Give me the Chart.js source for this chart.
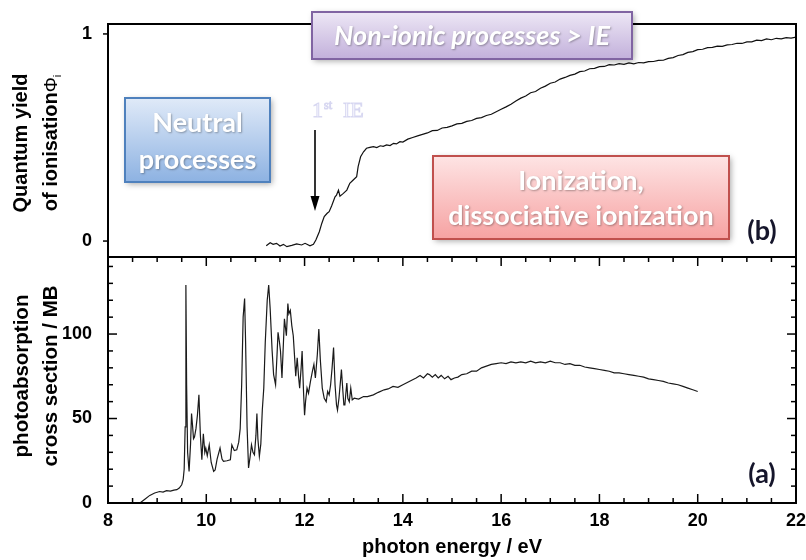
<!DOCTYPE html>
<html>
<head>
<meta charset="utf-8">
<script src="https://cdn.jsdelivr.net/npm/chart.js@4.4.0/dist/chart.umd.min.js"></script>
<style>
body{margin:0;background:#fff;width:806px;height:560px;overflow:hidden;position:relative}
canvas{position:absolute;left:0}
#yieldChart{top:0}
#absChart{top:255px}
</style>
</head>
<body>
<canvas id="absChart" width="806" height="305"></canvas>
<canvas id="yieldChart" width="806" height="260"></canvas>
<script>
// tick labels
const energyTicks = [8, 10, 12, 14, 16, 18, 20, 22]
const yieldTicks = [0, 1]
const absTicks = [0, 50, 100]

// (b) quantum yield of ionisation vs photon energy (eV)
const yieldE = [11.22,11.30,11.36,11.43,11.50,11.57,11.64,11.74,11.84,11.94,12.01,12.11,12.18,12.23,12.30,12.35,12.40,12.46,12.50,12.55,
  12.62,12.65,12.69,12.72,12.79,12.86,12.92,12.99,13.06,13.09,13.14,13.20,13.26,13.33,13.40,13.47,13.54,13.60,13.67,13.74,
  13.81,13.87,13.94,14.0,14.1,14.2,14.3,14.4,14.5,14.6,14.7,14.8,14.9,15.0,15.1,15.2,15.3,15.4,15.5,15.6,
  15.7,15.8,15.9,16.0,16.1,16.2,16.3,16.4,16.5,16.6,16.7,16.8,16.9,17.0,17.1,17.2,17.3,17.4,17.5,17.6,
  17.7,17.8,17.9,18.0,18.1,18.2,18.3,18.4,18.5,18.6,18.7,18.8,18.9,19.0,19.1,19.2,19.3,19.4,19.5,19.6,
  19.7,19.8,19.9,20.0,20.1,20.2,20.3,20.4,20.5,20.6,20.7,20.8,20.9,21.0,21.1,21.2,21.3,21.4,21.5,21.6,
  21.7,21.8,21.9,22.0]
const yieldVal = [-0.023,-0.008,-0.016,-0.011,-0.024,-0.016,-0.027,-0.021,-0.014,-0.019,-0.011,-0.023,-0.016,0.005,0.045,0.085,0.118,0.134,0.142,0.169,
  0.214,0.222,0.246,0.217,0.230,0.246,0.279,0.295,0.311,0.359,0.407,0.431,0.448,0.452,0.456,0.451,0.460,0.457,0.464,0.461,
  0.472,0.469,0.480,0.478,0.492,0.500,0.508,0.515,0.522,0.533,0.534,0.546,0.549,0.556,0.566,0.568,0.578,0.582,0.592,0.596,
  0.606,0.612,0.624,0.636,0.648,0.661,0.676,0.690,0.700,0.716,0.722,0.738,0.748,0.762,0.768,0.782,0.790,0.800,0.806,0.818,
  0.821,0.832,0.834,0.842,0.843,0.852,0.850,0.857,0.853,0.860,0.856,0.862,0.860,0.866,0.867,0.872,0.873,0.882,0.886,0.896,
  0.900,0.911,0.915,0.924,0.926,0.934,0.935,0.941,0.940,0.947,0.949,0.955,0.954,0.962,0.962,0.970,0.968,0.976,0.972,0.979,
  0.976,0.982,0.980,0.985]

// (a) photoabsorption cross section (MB) vs photon energy (eV)
const absE = [8.65,8.75,8.85,8.95,9.05,9.12,9.19,9.27,9.34,9.40,9.45,9.50,9.53,9.55,9.57,9.585,9.60,9.62,9.65,9.68,
  9.70,9.72,9.74,9.76,9.79,9.82,9.85,9.88,9.91,9.94,9.97,9.99,10.02,10.06,10.10,10.15,10.18,10.22,10.28,10.32,
  10.35,10.42,10.49,10.52,10.57,10.62,10.66,10.69,10.72,10.75,10.78,10.80,10.83,10.86,10.89,10.92,10.95,10.98,11.01,11.03,
  11.05,11.08,11.11,11.14,11.17,11.20,11.24,11.27,11.30,11.34,11.37,11.41,11.44,11.46,11.49,11.51,11.54,11.57,11.59,11.61,
  11.63,11.66,11.68,11.71,11.74,11.77,11.80,11.82,11.85,11.88,11.90,11.93,11.95,11.98,12.00,12.02,12.05,12.08,12.12,12.16,
  12.19,12.22,12.26,12.29,12.32,12.36,12.40,12.44,12.47,12.50,12.53,12.56,12.59,12.62,12.65,12.67,12.70,12.73,12.75,12.78,
  12.80,12.82,12.84,12.86,12.88,12.91,12.94,12.97,13.01,13.1,13.2,13.28,13.4,13.5,13.62,13.7,13.8,13.9,14.0,14.1,
  14.2,14.27,14.35,14.42,14.5,14.54,14.6,14.66,14.72,14.78,14.85,14.92,14.98,15.05,15.12,15.2,15.3,15.4,15.5,15.6,
  15.7,15.8,15.9,16.0,16.1,16.2,16.3,16.4,16.5,16.6,16.7,16.8,16.9,17.0,17.1,17.2,17.3,17.4,17.5,17.6,
  17.7,17.8,17.9,18.0,18.1,18.2,18.3,18.4,18.5,18.6,18.7,18.8,18.9,19.0,19.1,19.2,19.3,19.4,19.5,19.6,
  19.7,19.8,19.9,20.0]
const absVal = [0,2.2,4.5,5.9,6.8,6.5,7.3,7.0,7.6,7.9,8.8,10.8,14,20,45,129,70,30,18.7,35,
  53,46,38,39,44,52,64,40,25.6,41,30,32.5,28,34.4,24,18.7,19.5,26,32.5,26,
  24.6,25,25.6,34.4,31,31.5,36,44,70,110,121,95,45,20.7,27,34.4,30,28.5,40,53,
  38,27.6,35,55,68,95,120,129,115,90,76,70,88,101,95,90,74,95,109,104,
  99,118,112,114,105,99,85,75,86,74,68,80,90,65,52,60,68,65,72,78,
  82,74,88,103,85,68,62,60,66,64,70,80,92,70,58,55,62,72,79,66,
  58,58,65,71,62,60,68,61,62,61.5,63,63,64,65.5,67,67.5,69,68.5,70,71.5,
  73,74,75.5,74,76.5,76,74.5,76,74,75.5,73.5,75,73,74,74.5,76,76.5,78,78,80,
  81,82,82.5,83,82.5,83.5,83,83.5,83,84,83,83.5,83,84,83,83,82,82.5,81.5,81.5,
  80.5,80,79.5,79,78.5,78,77,77,76.5,76,75.5,75,74.5,73.5,73,72.5,72,71,70.5,70,
  69,68,67,66]

const sans = "'Liberation Sans', Arial, sans-serif"
const boxFont = "Lato, 'Open Sans', sans-serif"

function pts(xs, ys) {
  return xs.map((x, i) => ({x: x, y: ys[i]}))
}

function fixY(scale) {
  scale.width = 108
  scale.paddingTop = 0
  scale.paddingBottom = 0
}

function line(ctx, x1, y1, x2, y2) {
  ctx.beginPath()
  ctx.moveTo(x1, y1)
  ctx.lineTo(x2, y2)
  ctx.stroke()
}

function box(ctx, x, y, w, h, c1, c2, edge, lines, lineY, font) {
  ctx.save()
  ctx.shadowColor = 'rgba(0,0,0,0.35)'
  ctx.shadowBlur = 6
  ctx.shadowOffsetX = 2
  ctx.shadowOffsetY = 2
  const g = ctx.createLinearGradient(0, y, 0, y + h)
  g.addColorStop(0, c1)
  g.addColorStop(1, c2)
  ctx.fillStyle = g
  ctx.fillRect(x, y, w, h)
  ctx.shadowColor = 'transparent'
  ctx.strokeStyle = edge
  ctx.lineWidth = 2
  ctx.strokeRect(x, y, w, h)
  ctx.fillStyle = '#fff'
  ctx.font = font
  ctx.textAlign = 'center'
  ctx.textBaseline = 'middle'
  ctx.shadowColor = 'rgba(0,0,0,0.3)'
  ctx.shadowBlur = 2
  ctx.shadowOffsetX = 1
  ctx.shadowOffsetY = 1
  lines.forEach((t, i) => ctx.fillText(t, x + w / 2, lineY[i]))
  ctx.restore()
}

const yieldDeco = {
  id: 'yieldDeco',
  afterDraw(chart) {
    const ctx = chart.ctx, a = chart.chartArea, ys = chart.scales.y
    ctx.save()
    ctx.strokeStyle = '#000'
    ctx.lineWidth = 2
    ctx.strokeRect(a.left, a.top, a.right - a.left, a.bottom - a.top)
    ctx.lineWidth = 1.5
    yieldTicks.forEach(v => {
      const py = ys.getPixelForValue(v)
      line(ctx, a.left - 5, py, a.left, py)
    })

    // y title
    ctx.save()
    ctx.translate(27, 143)
    ctx.rotate(-Math.PI / 2)
    ctx.fillStyle = '#000'
    ctx.font = 'bold 20px ' + sans
    ctx.textAlign = 'center'
    ctx.textBaseline = 'alphabetic'
    ctx.fillText('Quantum yield', 0, 0)
    const t1 = 'of ionisation', f1 = 'bold 20px ' + sans, f2 = '19px ' + sans, f3 = '11px ' + sans
    ctx.font = f1; const w1 = ctx.measureText(t1).width
    ctx.font = f2; const w2 = ctx.measureText('Φ').width
    ctx.font = f3; const w3 = ctx.measureText('i').width
    const sx = -(w1 + w2 + w3) / 2
    ctx.textAlign = 'left'
    ctx.font = f1; ctx.fillText(t1, sx, 30)
    ctx.font = f2; ctx.fillText('Φ', sx + w1, 30)
    ctx.font = f3; ctx.fillText('i', sx + w1 + w2, 34)
    ctx.restore()

    // arrow to 1st IE
    ctx.strokeStyle = '#000'
    ctx.fillStyle = '#000'
    ctx.lineWidth = 1.6
    line(ctx, 315, 130, 315, 198)
    ctx.beginPath()
    ctx.moveTo(310.5, 196)
    ctx.lineTo(319.5, 196)
    ctx.lineTo(315, 211)
    ctx.closePath()
    ctx.fill()

    // faint "1st IE" label
    ctx.textAlign = 'left'
    ctx.textBaseline = 'alphabetic'
    ctx.fillStyle = '#fafaff'
    ctx.strokeStyle = 'rgba(170,170,225,0.45)'
    ctx.lineWidth = 1
    ctx.font = '22px "Liberation Serif", serif'
    ctx.fillText('1', 312, 117); ctx.strokeText('1', 312, 117)
    ctx.font = '12px "Liberation Serif", serif'
    ctx.fillText('st', 324, 109); ctx.strokeText('st', 324, 109)
    ctx.font = '22px "Liberation Serif", serif'
    ctx.fillText('IE', 343, 117); ctx.strokeText('IE', 343, 117)

    box(ctx, 125, 98, 145, 84, '#e0eaf8', '#8db2e2', '#4f81bd',
      ['Neutral', 'processes'], [123, 160], 'bold 27px ' + boxFont)
    box(ctx, 312, 12, 320, 47, '#ede7f5', '#c2b0db', '#8064a2',
      ['Non-ionic processes > IE'], [36], 'italic bold 27px ' + boxFont)
    box(ctx, 433, 156, 296, 83, '#fee4e4', '#f6a2a2', '#c0504d',
      ['Ionization,', 'dissociative ionization'], [181, 216], 'bold 27px ' + boxFont)

    ctx.fillStyle = '#15152b'
    ctx.font = 'bold 27px ' + boxFont
    ctx.textAlign = 'center'
    ctx.textBaseline = 'middle'
    ctx.fillText('(b)', 762, 231)
    ctx.restore()
  }
}

const absDeco = {
  id: 'absDeco',
  afterDraw(chart) {
    const ctx = chart.ctx, a = chart.chartArea, xs = chart.scales.x, ys = chart.scales.y
    ctx.save()
    ctx.strokeStyle = '#000'
    ctx.lineWidth = 2
    ctx.strokeRect(a.left, a.top, a.right - a.left, a.bottom - a.top)
    ctx.lineWidth = 1.5
    for (let e = 8; e <= 22; e += 0.5) {
      const px = xs.getPixelForValue(e), len = e % 2 === 0 ? 9 : 5
      line(ctx, px, a.bottom, px, a.bottom - len)
      line(ctx, px, a.top, px, a.top + len)
    }
    for (let v = 0; v <= 140; v += 10) {
      const py = ys.getPixelForValue(v), len = v % 50 === 0 ? 9 : 5
      line(ctx, a.left, py, a.left + len, py)
      line(ctx, a.right, py, a.right - len, py)
    }

    ctx.fillStyle = '#000'
    ctx.textBaseline = 'alphabetic'
    ctx.textAlign = 'center'
    ctx.font = 'bold 20px ' + sans
    ctx.fillText('photon energy / eV', 452, 298)

    ctx.save()
    ctx.translate(28, 121)
    ctx.rotate(-Math.PI / 2)
    ctx.font = 'bold 20.5px ' + sans
    ctx.fillText('photoabsorption', 0, 0)
    ctx.fillText('cross section / MB', 0, 29)
    ctx.restore()

    ctx.fillStyle = '#15152b'
    ctx.font = 'bold 27px ' + boxFont
    ctx.textBaseline = 'middle'
    ctx.fillText('(a)', 762, 219)
    ctx.restore()
  }
}

const tickFont = {family: sans, size: 18, weight: 'bold'}

new Chart(document.getElementById('yieldChart'), {
  type: 'line',
  data: {
    datasets: [{
      data: pts(yieldE, yieldVal),
      borderColor: '#111',
      borderWidth: 1.2,
      pointRadius: 0,
      tension: 0
    }]
  },
  options: {
    responsive: false,
    animation: false,
    layout: {padding: {left: 0, right: 10, top: 24, bottom: 3}},
    plugins: {legend: {display: false}, tooltip: {enabled: false}},
    scales: {
      x: {type: 'linear', min: 8, max: 22, display: false},
      y: {
        type: 'linear', min: -0.077, max: 1.048,
        grid: {display: false, drawTicks: false},
        border: {display: false},
        ticks: {font: tickFont, color: '#000', padding: 16},
        afterBuildTicks: s => { s.ticks = yieldTicks.map(v => ({value: v})) },
        afterFit: fixY
      }
    }
  },
  plugins: [yieldDeco]
})

new Chart(document.getElementById('absChart'), {
  type: 'line',
  data: {
    datasets: [{
      data: pts(absE, absVal),
      borderColor: '#1a1a1a',
      borderWidth: 1.2,
      pointRadius: 0,
      tension: 0
    }]
  },
  options: {
    responsive: false,
    animation: false,
    layout: {padding: {left: 0, right: 10, top: 2, bottom: 0}},
    plugins: {legend: {display: false}, tooltip: {enabled: false}},
    scales: {
      x: {
        type: 'linear', min: 8, max: 22,
        grid: {display: false, drawTicks: false},
        border: {display: false},
        ticks: {font: tickFont, color: '#000', padding: 7, maxRotation: 0},
        afterBuildTicks: s => { s.ticks = energyTicks.map(v => ({value: v})) },
        afterFit: s => { s.height = 57; s.paddingLeft = 0; s.paddingRight = 0 }
      },
      y: {
        type: 'linear', min: 0, max: 145.6,
        grid: {display: false, drawTicks: false},
        border: {display: false},
        ticks: {font: tickFont, color: '#000', padding: 16},
        afterBuildTicks: s => { s.ticks = absTicks.map(v => ({value: v})) },
        afterFit: fixY
      }
    }
  },
  plugins: [absDeco]
})
</script>
</body>
</html>
